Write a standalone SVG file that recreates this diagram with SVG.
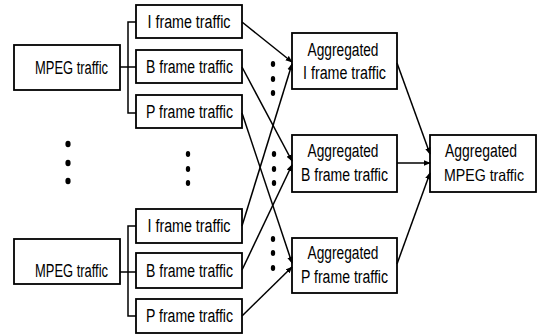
<svg xmlns="http://www.w3.org/2000/svg" width="543" height="336" viewBox="0 0 543 336">
  <defs>
    <style>
      .box { fill: #fff; stroke: #000; stroke-width: 1.8; }
      .lbl { font-family: "Liberation Sans", Arial, sans-serif; font-size: 18px; fill: #000; text-anchor: middle; }
      .wire { fill: none; stroke: #000; stroke-width: 1.5; }
      .arrow { fill: none; stroke: #000; stroke-width: 1.5; marker-end: url(#head); }
      .dot { fill: #000; }
    </style>
    <marker id="head" viewBox="0 0 10 10" refX="9" refY="5" markerWidth="7" markerHeight="7" orient="auto" markerUnits="userSpaceOnUse">
      <path d="M0,1 L10,5 L0,9 Z" fill="#000"/>
    </marker>
  </defs>
  <rect width="543" height="336" fill="#fff"/>

  <!-- upper source -->
  <g id="mpeg-top">
    <rect class="box" x="14" y="45" width="106" height="45"/>
    <text class="lbl" x="71.5" y="74" textLength="73" lengthAdjust="spacingAndGlyphs">MPEG traffic</text>
  </g>
  <g id="i-top">
    <rect class="box" x="136" y="5" width="106" height="33"/>
    <text class="lbl" x="189" y="28" textLength="83" lengthAdjust="spacingAndGlyphs">I frame traffic</text>
  </g>
  <g id="b-top">
    <rect class="box" x="136" y="50" width="106" height="33"/>
    <text class="lbl" x="189.5" y="73" textLength="87" lengthAdjust="spacingAndGlyphs">B frame traffic</text>
  </g>
  <g id="p-top">
    <rect class="box" x="136" y="95" width="106" height="33"/>
    <text class="lbl" x="189.5" y="118" textLength="87" lengthAdjust="spacingAndGlyphs">P frame traffic</text>
  </g>

  <!-- lower source -->
  <g id="mpeg-bottom">
    <rect class="box" x="14" y="239" width="106" height="45"/>
    <text class="lbl" x="71.5" y="277" textLength="73" lengthAdjust="spacingAndGlyphs">MPEG traffic</text>
  </g>
  <g id="i-bottom">
    <rect class="box" x="136" y="209" width="106" height="34"/>
    <text class="lbl" x="189" y="232" textLength="83" lengthAdjust="spacingAndGlyphs">I frame traffic</text>
  </g>
  <g id="b-bottom">
    <rect class="box" x="136" y="253" width="106" height="35"/>
    <text class="lbl" x="189.5" y="277" textLength="87" lengthAdjust="spacingAndGlyphs">B frame traffic</text>
  </g>
  <g id="p-bottom">
    <rect class="box" x="136" y="299" width="106" height="34"/>
    <text class="lbl" x="189.5" y="322" textLength="87" lengthAdjust="spacingAndGlyphs">P frame traffic</text>
  </g>

  <!-- aggregates -->
  <g id="agg-i">
    <rect class="box" x="292" y="33" width="105" height="56"/>
    <text class="lbl" x="343" y="56" textLength="71" lengthAdjust="spacingAndGlyphs">Aggregated</text>
    <text class="lbl" x="344.5" y="79" textLength="83" lengthAdjust="spacingAndGlyphs">I frame traffic</text>
  </g>
  <g id="agg-b">
    <rect class="box" x="292" y="135" width="105" height="57"/>
    <text class="lbl" x="343" y="157" textLength="71" lengthAdjust="spacingAndGlyphs">Aggregated</text>
    <text class="lbl" x="344.5" y="181" textLength="87" lengthAdjust="spacingAndGlyphs">B frame traffic</text>
  </g>
  <g id="agg-p">
    <rect class="box" x="292" y="238" width="105" height="55"/>
    <text class="lbl" x="343" y="259" textLength="71" lengthAdjust="spacingAndGlyphs">Aggregated</text>
    <text class="lbl" x="344.5" y="283" textLength="87" lengthAdjust="spacingAndGlyphs">P frame traffic</text>
  </g>
  <g id="agg-mpeg">
    <rect class="box" x="430" y="135" width="106" height="57"/>
    <text class="lbl" x="481" y="157" textLength="72" lengthAdjust="spacingAndGlyphs">Aggregated</text>
    <text class="lbl" x="484" y="181" style="font-size:16.5px" textLength="80" lengthAdjust="spacingAndGlyphs">MPEG traffic</text>
  </g>

  <!-- ellipsis dots -->
  <g id="dots">
    <ellipse class="dot" cx="68" cy="144" rx="2.6" ry="3.3"/>
    <ellipse class="dot" cx="68" cy="163" rx="2.6" ry="3.3"/>
    <ellipse class="dot" cx="68" cy="181" rx="2.6" ry="3.3"/>
    <ellipse class="dot" cx="188" cy="154" rx="2.2" ry="3"/>
    <ellipse class="dot" cx="188" cy="169" rx="2.2" ry="3"/>
    <ellipse class="dot" cx="188" cy="183" rx="2.2" ry="3"/>
    <ellipse class="dot" cx="273" cy="64" rx="2.2" ry="3"/>
    <ellipse class="dot" cx="273" cy="79" rx="2.2" ry="3"/>
    <ellipse class="dot" cx="273" cy="93" rx="2.2" ry="3"/>
    <ellipse class="dot" cx="274" cy="154" rx="2.2" ry="3"/>
    <ellipse class="dot" cx="274" cy="169" rx="2.2" ry="3"/>
    <ellipse class="dot" cx="274" cy="183" rx="2.2" ry="3"/>
    <ellipse class="dot" cx="273" cy="239" rx="2.2" ry="3"/>
    <ellipse class="dot" cx="273" cy="253" rx="2.2" ry="3"/>
    <ellipse class="dot" cx="273" cy="268" rx="2.2" ry="3"/>
  </g>

  <g id="connectors">
    <!-- splitting brackets -->
    <path class="wire" d="M120,67 H128 M136,22 H128 V113 H136 M128,67 H136"/>
    <path class="wire" d="M120,272 H128 M136,226 H128 V316 H136 M128,272 H136"/>
    <!-- frames to aggregates -->
    <line class="arrow" x1="242" y1="22" x2="292" y2="62"/>
    <line class="arrow" x1="242" y1="67" x2="292" y2="161"/>
    <line class="arrow" x1="242" y1="113" x2="292" y2="263"/>
    <line class="arrow" x1="242" y1="226" x2="292" y2="64"/>
    <line class="arrow" x1="242" y1="270" x2="292" y2="165"/>
    <line class="arrow" x1="242" y1="316" x2="292" y2="267"/>
    <!-- aggregates to total -->
    <line class="arrow" x1="397" y1="63" x2="430" y2="154"/>
    <line class="arrow" x1="397" y1="163" x2="430" y2="163"/>
    <line class="arrow" x1="397" y1="264" x2="430" y2="173"/>
  </g>
</svg>
